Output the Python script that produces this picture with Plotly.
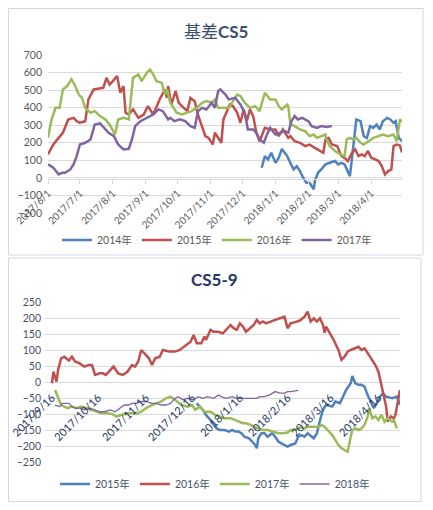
import plotly.graph_objects as go

# ---------------- 基差CS5 (top chart) ----------------
top_2014_dates = ["2017-12-19","2017-12-22","2017-12-25","2017-12-28","2018-01-01","2018-01-04","2018-01-07","2018-01-10","2018-01-12","2018-01-15","2018-01-18","2018-01-21","2018-01-24","2018-01-27","2018-01-30","2018-02-02","2018-02-06","2018-02-07","2018-02-10","2018-02-13","2018-02-17","2018-02-21","2018-02-26","2018-03-01","2018-03-04","2018-03-07","2018-03-09","2018-03-12","2018-03-14","2018-03-17","2018-03-18","2018-03-22","2018-03-25","2018-03-28","2018-03-31","2018-04-03","2018-04-06","2018-04-09","2018-04-12","2018-04-16","2018-04-19","2018-04-22","2018-04-24","2018-04-27","2018-04-30"]
top_2014_vals = [58,124,105,143,86,114,165,140,124,85,48,67,39,1,-28,-28,-65,-18,29,48,77,86,96,77,86,77,48,10,115,285,333,323,238,228,295,285,304,276,323,342,333,314,323,228,209]

top_2015_dates = ["2017-06-01","2017-06-06","2017-06-11","2017-06-15","2017-06-20","2017-06-25","2017-06-28","2017-07-01","2017-07-06","2017-07-09","2017-07-14","2017-07-18","2017-07-23","2017-07-26","2017-07-29","2017-08-01","2017-08-05","2017-08-08","2017-08-11","2017-08-13","2017-08-16","2017-08-20","2017-08-25","2017-08-30","2017-09-03","2017-09-08","2017-09-14","2017-09-19","2017-09-21","2017-09-22","2017-09-25","2017-09-29","2017-10-02","2017-10-05","2017-10-10","2017-10-13","2017-10-17","2017-10-20","2017-10-24","2017-10-27","2017-10-30","2017-11-03","2017-11-05","2017-11-08","2017-11-11","2017-11-13","2017-11-16","2017-11-19","2017-11-22","2017-11-26","2017-11-29","2017-12-02","2017-12-05","2017-12-08","2017-12-11","2017-12-14","2017-12-17","2017-12-22","2017-12-27","2018-01-01","2018-01-04","2018-01-08","2018-01-13","2018-01-15","2018-01-19","2018-01-24","2018-01-29","2018-02-02","2018-02-07","2018-02-12","2018-02-15","2018-02-17","2018-02-20","2018-02-23","2018-02-28","2018-03-04","2018-03-07","2018-03-10","2018-03-14","2018-03-17","2018-03-20","2018-03-23","2018-03-26","2018-03-29","2018-04-01","2018-04-05","2018-04-08","2018-04-11","2018-04-14","2018-04-17","2018-04-20","2018-04-22","2018-04-25","2018-04-28","2018-04-30"]
top_2015_vals = [134,190,228,257,333,342,323,314,323,447,504,507,513,570,532,551,580,485,523,371,361,390,342,361,409,361,447,504,456,523,418,494,428,409,380,456,437,361,295,238,228,190,257,228,200,333,380,418,409,371,314,390,323,390,352,257,209,285,276,276,238,276,228,238,209,200,181,190,171,153,143,219,228,190,181,124,114,96,143,162,124,134,124,153,114,105,96,67,20,39,48,181,190,185,145]

top_2016_dates = ["2017-06-01","2017-06-04","2017-06-08","2017-06-12","2017-06-15","2017-06-19","2017-06-23","2017-06-26","2017-06-30","2017-07-03","2017-07-06","2017-07-11","2017-07-15","2017-07-20","2017-07-25","2017-07-29","2017-08-03","2017-08-06","2017-08-11","2017-08-16","2017-08-20","2017-08-25","2017-08-28","2017-09-02","2017-09-05","2017-09-08","2017-09-11","2017-09-16","2017-09-19","2017-09-21","2017-09-24","2017-09-27","2017-09-30","2017-10-05","2017-10-09","2017-10-14","2017-10-19","2017-10-24","2017-10-28","2017-11-02","2017-11-05","2017-11-08","2017-11-13","2017-11-18","2017-11-22","2017-11-26","2017-11-29","2017-12-03","2017-12-08","2017-12-13","2017-12-17","2017-12-22","2017-12-27","2018-01-01","2018-01-04","2018-01-07","2018-01-12","2018-01-13","2018-01-15","2018-01-19","2018-01-24","2018-01-29","2018-02-02","2018-02-06","2018-02-09","2018-02-13","2018-02-17","2018-02-18","2018-02-21","2018-02-26","2018-03-03","2018-03-07","2018-03-09","2018-03-12","2018-03-15","2018-03-18","2018-03-22","2018-03-25","2018-03-29","2018-04-03","2018-04-08","2018-04-12","2018-04-17","2018-04-22","2018-04-25","2018-04-28","2018-04-30"]
top_2016_vals = [229,323,399,399,504,523,561,532,475,456,399,371,380,352,333,304,247,333,342,333,570,589,551,599,618,589,551,542,475,504,428,399,371,361,371,380,399,428,437,428,447,399,399,399,437,475,466,428,399,409,380,485,447,447,409,390,418,410,304,295,276,266,238,247,228,238,247,219,181,153,134,124,219,228,219,228,200,190,209,228,238,247,238,247,209,333,320]

top_2017_dates = ["2017-06-01","2017-06-06","2017-06-11","2017-06-14","2017-06-17","2017-06-22","2017-06-25","2017-06-28","2017-07-01","2017-07-06","2017-07-11","2017-07-15","2017-07-20","2017-07-25","2017-07-28","2017-08-02","2017-08-06","2017-08-11","2017-08-16","2017-08-19","2017-08-22","2017-08-27","2017-09-02","2017-09-08","2017-09-13","2017-09-17","2017-09-22","2017-09-24","2017-09-28","2017-10-03","2017-10-08","2017-10-13","2017-10-17","2017-10-20","2017-10-24","2017-10-28","2017-11-02","2017-11-05","2017-11-08","2017-11-10","2017-11-15","2017-11-18","2017-11-24","2017-11-29","2017-12-03","2017-12-06","2017-12-11","2017-12-14","2017-12-17","2017-12-21","2017-12-24","2017-12-27","2018-01-01","2018-01-05","2018-01-10","2018-01-13","2018-01-16","2018-01-19","2018-01-22","2018-01-26","2018-01-29","2018-02-01","2018-02-04","2018-02-09","2018-02-13","2018-02-18","2018-02-23"]
top_2017_vals = [77,58,20,29,29,48,77,124,190,200,219,304,310,276,257,238,190,162,166,219,295,323,342,361,390,380,333,342,323,333,323,295,285,380,399,390,428,399,494,504,475,447,456,418,371,276,276,257,219,200,247,285,247,257,266,257,323,352,333,342,333,323,295,285,295,290,295]

# ---------------- CS5-9 (bottom chart) ----------------
bot_2015_dates = ["2017-12-19","2017-12-21","2017-12-23","2017-12-25","2017-12-28","2017-12-30","2018-01-01","2018-01-03","2018-01-06","2018-01-09","2018-01-11","2018-01-13","2018-01-15","2018-01-17","2018-01-19","2018-01-22","2018-01-24","2018-01-26","2018-01-27","2018-01-28","2018-01-30","2018-02-01","2018-02-03","2018-02-06","2018-02-08","2018-02-10","2018-02-12","2018-02-14","2018-02-16","2018-02-18","2018-02-21","2018-02-23","2018-02-25","2018-02-27","2018-03-01","2018-03-05","2018-03-07","2018-03-09","2018-03-11","2018-03-13","2018-03-17","2018-03-19","2018-03-22","2018-03-24","2018-03-26","2018-03-29","2018-03-30","2018-04-01","2018-04-03","2018-04-05","2018-04-07","2018-04-09","2018-04-13","2018-04-15","2018-04-17","2018-04-19","2018-04-21","2018-04-25","2018-04-28","2018-04-30"]
bot_2015_vals = [-66,-76,-86,-102,-118,-133,-144,-149,-149,-154,-149,-154,-154,-159,-170,-175,-185,-196,-206,-175,-159,-159,-170,-159,-170,-185,-191,-196,-201,-196,-191,-170,-165,-170,-159,-175,-160,-120,-86,-70,-76,-60,-65,-45,-24,-3,20,-3,-8,-8,-14,-40,-81,-65,-45,-34,-45,-50,-45,-70]

bot_2016_dates = ["2017-09-16","2017-09-17","2017-09-19","2017-09-20","2017-09-22","2017-09-24","2017-09-27","2017-09-29","2017-10-01","2017-10-04","2017-10-07","2017-10-10","2017-10-12","2017-10-14","2017-10-17","2017-10-19","2017-10-21","2017-10-24","2017-10-26","2017-10-29","2017-11-01","2017-11-04","2017-11-07","2017-11-09","2017-11-11","2017-11-13","2017-11-15","2017-11-18","2017-11-20","2017-11-22","2017-11-25","2017-11-27","2017-12-01","2017-12-05","2017-12-08","2017-12-11","2017-12-15","2017-12-17","2017-12-19","2017-12-22","2017-12-24","2017-12-25","2017-12-28","2017-12-30","2018-01-02","2018-01-05","2018-01-07","2018-01-10","2018-01-12","2018-01-14","2018-01-16","2018-01-18","2018-01-20","2018-01-23","2018-01-25","2018-01-27","2018-01-29","2018-01-31","2018-02-02","2018-02-08","2018-02-11","2018-02-14","2018-02-16","2018-02-18","2018-02-21","2018-02-24","2018-02-27","2018-03-01","2018-03-03","2018-03-05","2018-03-07","2018-03-09","2018-03-11","2018-03-12","2018-03-13","2018-03-15","2018-03-18","2018-03-21","2018-03-23","2018-03-25","2018-03-27","2018-03-29","2018-04-01","2018-04-03","2018-04-05","2018-04-07","2018-04-09","2018-04-11","2018-04-14","2018-04-16","2018-04-17","2018-04-19","2018-04-21","2018-04-22","2018-04-24","2018-04-26","2018-04-27","2018-04-28","2018-04-29","2018-04-30"]
bot_2016_vals = [-3,33,2,39,75,80,68,80,65,59,49,54,54,23,28,28,23,39,49,28,23,33,54,49,65,101,91,75,54,75,80,101,96,96,101,111,127,148,122,122,143,132,164,158,158,153,164,179,169,164,184,174,158,169,179,195,184,190,184,195,200,205,169,184,188,193,205,221,190,200,190,200,179,155,174,158,132,101,70,80,96,101,106,111,101,106,91,75,54,33,12,-24,-76,-123,-107,-113,-102,-76,-55,-24]

bot_2017_dates = ["2017-09-18","2017-09-20","2017-09-22","2017-09-26","2017-09-29","2017-10-02","2017-10-05","2017-10-09","2017-10-12","2017-10-15","2017-10-18","2017-10-22","2017-10-25","2017-10-28","2017-10-31","2017-11-03","2017-11-07","2017-11-10","2017-11-13","2017-11-16","2017-11-20","2017-11-23","2017-11-26","2017-11-29","2017-12-02","2017-12-05","2017-12-09","2017-12-13","2017-12-16","2017-12-18","2017-12-21","2017-12-24","2017-12-28","2017-12-31","2018-01-03","2018-01-06","2018-01-10","2018-01-13","2018-01-16","2018-01-18","2018-01-20","2018-01-23","2018-01-25","2018-01-28","2018-01-31","2018-02-03","2018-02-07","2018-02-10","2018-02-13","2018-02-16","2018-02-18","2018-02-21","2018-02-24","2018-02-27","2018-03-01","2018-03-05","2018-03-08","2018-03-10","2018-03-12","2018-03-14","2018-03-17","2018-03-19","2018-03-21","2018-03-23","2018-03-25","2018-03-27","2018-03-29","2018-03-30","2018-04-01","2018-04-03","2018-04-05","2018-04-07","2018-04-09","2018-04-10","2018-04-12","2018-04-14","2018-04-16","2018-04-18","2018-04-20","2018-04-22","2018-04-25","2018-04-26","2018-04-28"]
bot_2017_vals = [-24,-45,-71,-81,-76,-81,-76,-81,-86,-92,-97,-97,-99,-107,-102,-97,-97,-99,-92,-81,-71,-66,-60,-50,-45,-55,-71,-76,-71,-86,-76,-92,-92,-102,-107,-112,-112,-118,-123,-128,-128,-133,-139,-144,-149,-149,-154,-159,-159,-157,-149,-149,-141,-144,-139,-139,-139,-133,-139,-149,-165,-180,-196,-206,-211,-217,-170,-149,-144,-149,-144,-133,-107,-81,-112,-107,-118,-102,-123,-112,-123,-118,-144]

bot_2018_dates = ["2017-09-18","2017-09-21","2017-09-23","2017-09-27","2017-09-29","2017-10-01","2017-10-04","2017-10-07","2017-10-11","2017-10-14","2017-10-17","2017-10-20","2017-10-24","2017-10-27","2017-10-30","2017-11-02","2017-11-05","2017-11-07","2017-11-10","2017-11-13","2017-11-16","2017-11-20","2017-11-23","2017-11-26","2017-11-29","2017-12-02","2017-12-05","2017-12-07","2017-12-10","2017-12-13","2017-12-17","2017-12-20","2017-12-23","2017-12-26","2017-12-30","2018-01-02","2018-01-04","2018-01-07","2018-01-11","2018-01-14","2018-01-17","2018-01-20","2018-01-24","2018-01-27","2018-01-29","2018-02-01","2018-02-04","2018-02-08","2018-02-11","2018-02-14","2018-02-16","2018-02-18","2018-02-23"]
bot_2018_vals = [-71,-76,-66,-66,-76,-81,-81,-86,-81,-86,-92,-92,-86,-92,-81,-71,-71,-66,-66,-60,-60,-66,-66,-71,-71,-66,-50,-45,-55,-50,-55,-45,-50,-45,-50,-40,-45,-50,-45,-50,-50,-50,-50,-50,-45,-45,-40,-29,-34,-34,-29,-29,-25]

top_names = ["2014年", "2015年", "2016年", "2017年"]
bot_names = ["2015年", "2016年", "2017年", "2018年"]

BLUE, RED, GREEN, PURPLE = "#4F81BD", "#C0504D", "#9BBB59", "#8064A2"
FONT = "Lato, 'Noto Sans CJK SC', sans-serif"

# The page body keeps its default 8px margin, so the figure covers the
# window region x 8..425, y 8..502; positions below are window pixels.
OFF = 8
W, H = 417, 494

def px_x(x):
    return (x - OFF) / W

def px_y(y):
    return 1 - (y - OFF) / H

fig = go.Figure()

top_series = [(top_2014_dates, top_2014_vals, BLUE), (top_2015_dates, top_2015_vals, RED),
              (top_2016_dates, top_2016_vals, GREEN), (top_2017_dates, top_2017_vals, PURPLE)]
for name, (d, v, c) in zip(top_names, top_series):
    fig.add_trace(go.Scatter(x=d, y=v, name=name, mode="lines", line=dict(color=c, width=2.5),
                             xaxis="x", yaxis="y", legend="legend"))

bot_series = [(bot_2015_dates, bot_2015_vals, BLUE, 2.5), (bot_2016_dates, bot_2016_vals, RED, 2.5),
              (bot_2017_dates, bot_2017_vals, GREEN, 2.5), (bot_2018_dates, bot_2018_vals, PURPLE, 1.3)]
for name, (d, v, c, w) in zip(bot_names, bot_series):
    fig.add_trace(go.Scatter(x=d, y=v, name=name, mode="lines", line=dict(color=c, width=w),
                             xaxis="x2", yaxis="y2", legend="legend2"))

GRID = "#D9D9D9"
top_dom = [px_y(213), px_y(55)]
bot_dom = [px_y(462.3), px_y(302.3)]

fig.update_layout(
    width=W, height=H, margin=dict(l=0, r=0, t=0, b=0, autoexpand=False),
    paper_bgcolor="white", plot_bgcolor="white",
    font=dict(family=FONT),
    xaxis=dict(domain=[px_x(48), px_x(402)], type="date",
               range=["2017-06-01", "2018-04-30"], tick0="2017-06-01", dtick="M1",
               tickformat="%Y/%-m/%-d", tickangle=-45, anchor="free",
               position=px_y(178.5), showgrid=False, zeroline=False,
               showline=True, linecolor=GRID, ticks="outside", ticklen=4, tickcolor=GRID,
               tickfont=dict(size=10, color="#595959")),
    yaxis=dict(domain=top_dom, range=[-200, 700], dtick=100, showgrid=True,
               gridcolor=GRID, zeroline=False, ticks="", ticklabelstandoff=5,
               tickfont=dict(size=10.5, color="#595959"), anchor="x"),
    xaxis2=dict(domain=[px_x(45), px_x(400)], type="date",
                range=["2017-09-11 12:00", "2018-04-30"], tick0="2017-09-16", dtick="M1",
                tickformat="%Y/%-m/%-d", tickangle=-45, anchor="free",
                position=px_y(382.3), showgrid=False, zeroline=False, showline=False,
                ticks="", ticklabelstandoff=6,
                tickfont=dict(size=11, color="#1F3864")),
    yaxis2=dict(domain=bot_dom, range=[-250, 250], dtick=50, showgrid=True,
                gridcolor=GRID, zeroline=False, ticks="", ticklabelstandoff=3,
                tickfont=dict(size=10.5, color="#44546A"), anchor="x2"),
    legend=dict(orientation="h", x=px_x(217), y=px_y(240), xanchor="center", yanchor="middle",
                font=dict(size=10.5, color="#595959"), itemwidth=30,
                bgcolor="rgba(0,0,0,0)"),
    legend2=dict(orientation="h", x=px_x(215), y=px_y(484), xanchor="center", yanchor="middle",
                 font=dict(size=10.5, color="#44546A"), itemwidth=30,
                 bgcolor="rgba(0,0,0,0)"),
    showlegend=True,
    annotations=[
        dict(text="基差<b>CS5</b>", x=px_x(216), y=px_y(31), xref="paper", yref="paper",
             xanchor="center", yanchor="middle", showarrow=False,
             font=dict(size=17, color="#3A4F6E", family=FONT)),
        dict(text="<b>CS5-9</b>", x=px_x(214), y=px_y(279), xref="paper", yref="paper",
             xanchor="center", yanchor="middle", showarrow=False,
             font=dict(size=17, color="#1F3864", family=FONT)),
    ],
    shapes=[
        dict(type="rect", xref="paper", yref="paper", x0=px_x(8.5), x1=px_x(423),
             y0=px_y(255), y1=px_y(8.5), line=dict(color="#D0D7E2", width=1)),
        dict(type="rect", xref="paper", yref="paper", x0=px_x(8.5), x1=px_x(421),
             y0=px_y(501.5), y1=px_y(258), line=dict(color="#D0D7E2", width=1)),
    ],
)

fig.write_html("out.html")
